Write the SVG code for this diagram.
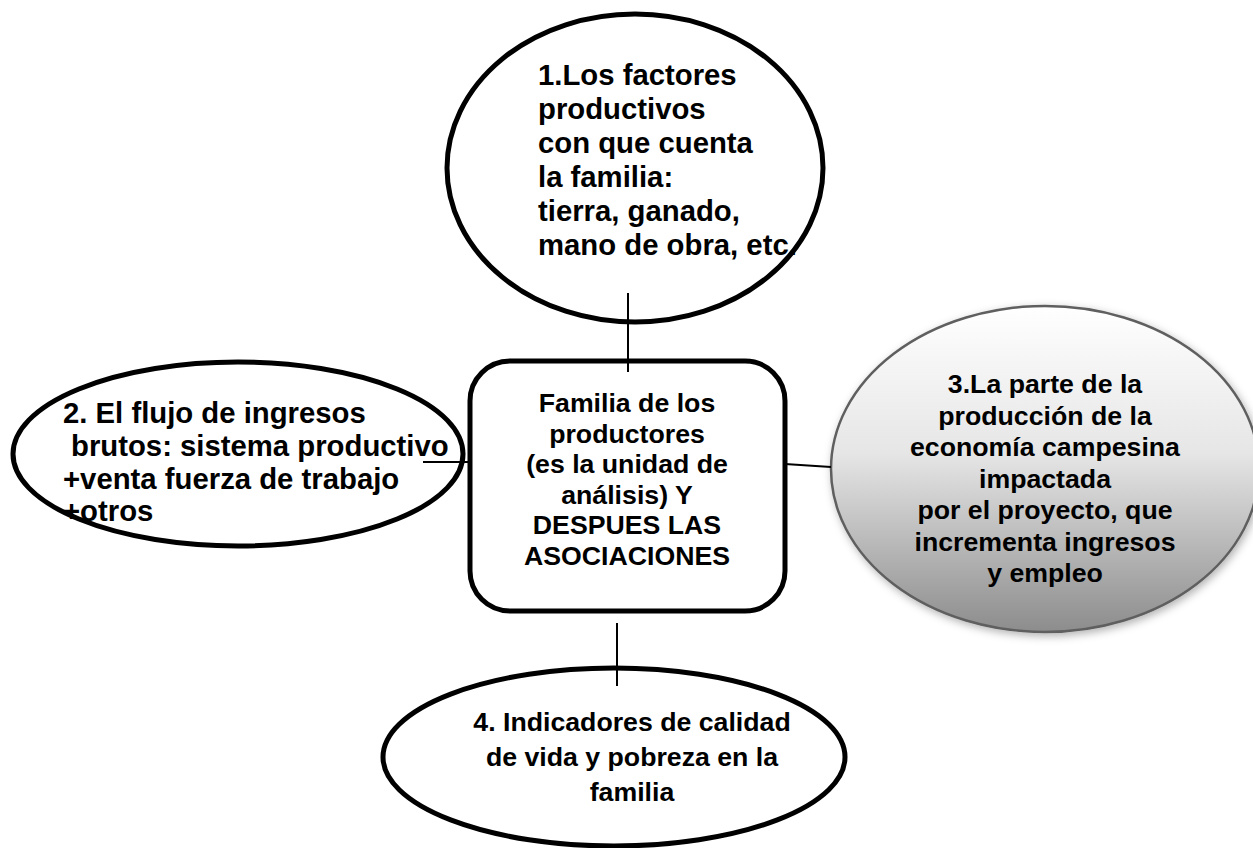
<svg xmlns="http://www.w3.org/2000/svg" width="1253" height="848" viewBox="0 0 1253 848">
<style>
.shape{fill:#ffffff;stroke:#000000;stroke-width:5}
.conn{stroke:#000000;stroke-width:2;fill:none}
.t{font-family:"Liberation Sans",Arial,sans-serif;font-weight:bold;fill:#000000}
.big{font-size:29.3px}
.mid{font-size:26.7px}
.c{text-anchor:middle}
</style>
<defs>
<linearGradient id="g3" x1="0" y1="0" x2="0" y2="1">
<stop offset="0" stop-color="#ffffff"/>
<stop offset="0.45" stop-color="#e6e6e6"/>
<stop offset="1" stop-color="#8c8c8c"/>
</linearGradient>
<filter id="sh" x="-10%" y="-10%" width="120%" height="125%">
<feDropShadow dx="2" dy="3" stdDeviation="4" flood-color="#000000" flood-opacity="0.3"/>
</filter>
</defs>
<rect width="1253" height="848" fill="#ffffff"/>
<g id="node1">
<ellipse class="shape" cx="635" cy="168" rx="188" ry="154"/>
<text class="t big" x="538"><tspan x="538" y="85">1.Los factores</tspan><tspan x="538" y="119">productivos</tspan><tspan x="538" y="153">con que cuenta</tspan><tspan x="538" y="187">la familia:</tspan><tspan x="538" y="221">tierra, ganado,</tspan><tspan x="538" y="255">mano de obra, etc.</tspan></text>
</g>
<g id="node2">
<ellipse class="shape" cx="238" cy="454" rx="225" ry="92"/>
<text class="t big"><tspan x="63" y="423">2. El flujo de ingresos</tspan><tspan x="71" y="456">brutos: sistema productivo</tspan><tspan x="63" y="489">+venta fuerza de trabajo</tspan><tspan x="63" y="521">+otros</tspan></text>
</g>
<g id="node3">
<ellipse cx="1045" cy="469" rx="214" ry="163" fill="url(#g3)" stroke="#5f5f5f" stroke-width="2.5" filter="url(#sh)"/>
<text class="t mid c"><tspan x="1045" y="393">3.La parte de la</tspan><tspan x="1045" y="424.5">producción de la</tspan><tspan x="1045" y="456">economía campesina</tspan><tspan x="1045" y="487.5">impactada</tspan><tspan x="1045" y="519">por el proyecto, que</tspan><tspan x="1045" y="550.5">incrementa ingresos</tspan><tspan x="1045" y="582">y empleo</tspan></text>
</g>
<g id="center">
<rect class="shape" x="470" y="361" width="315" height="250" rx="40" ry="40"/>
<text class="t mid c"><tspan x="627" y="412">Familia de los</tspan><tspan x="627" y="443">productores</tspan><tspan x="627" y="473">(es la unidad de</tspan><tspan x="627" y="504">análisis) Y</tspan><tspan x="627" y="534">DESPUES LAS</tspan><tspan x="627" y="565">ASOCIACIONES</tspan></text>
</g>
<g id="node4">
<ellipse class="shape" cx="614" cy="757" rx="231" ry="89"/>
<text class="t mid c"><tspan x="632" y="731">4. Indicadores de calidad</tspan><tspan x="632" y="766">de vida y pobreza en la</tspan><tspan x="632" y="801">familia</tspan></text>
</g>
<g id="connectors">
<line class="conn" x1="628" y1="293" x2="628" y2="372"/>
<line class="conn" x1="423" y1="462" x2="470" y2="462"/>
<line class="conn" x1="785" y1="464" x2="831" y2="467"/>
<line class="conn" x1="617" y1="623" x2="617" y2="686"/>
</g>
</svg>
